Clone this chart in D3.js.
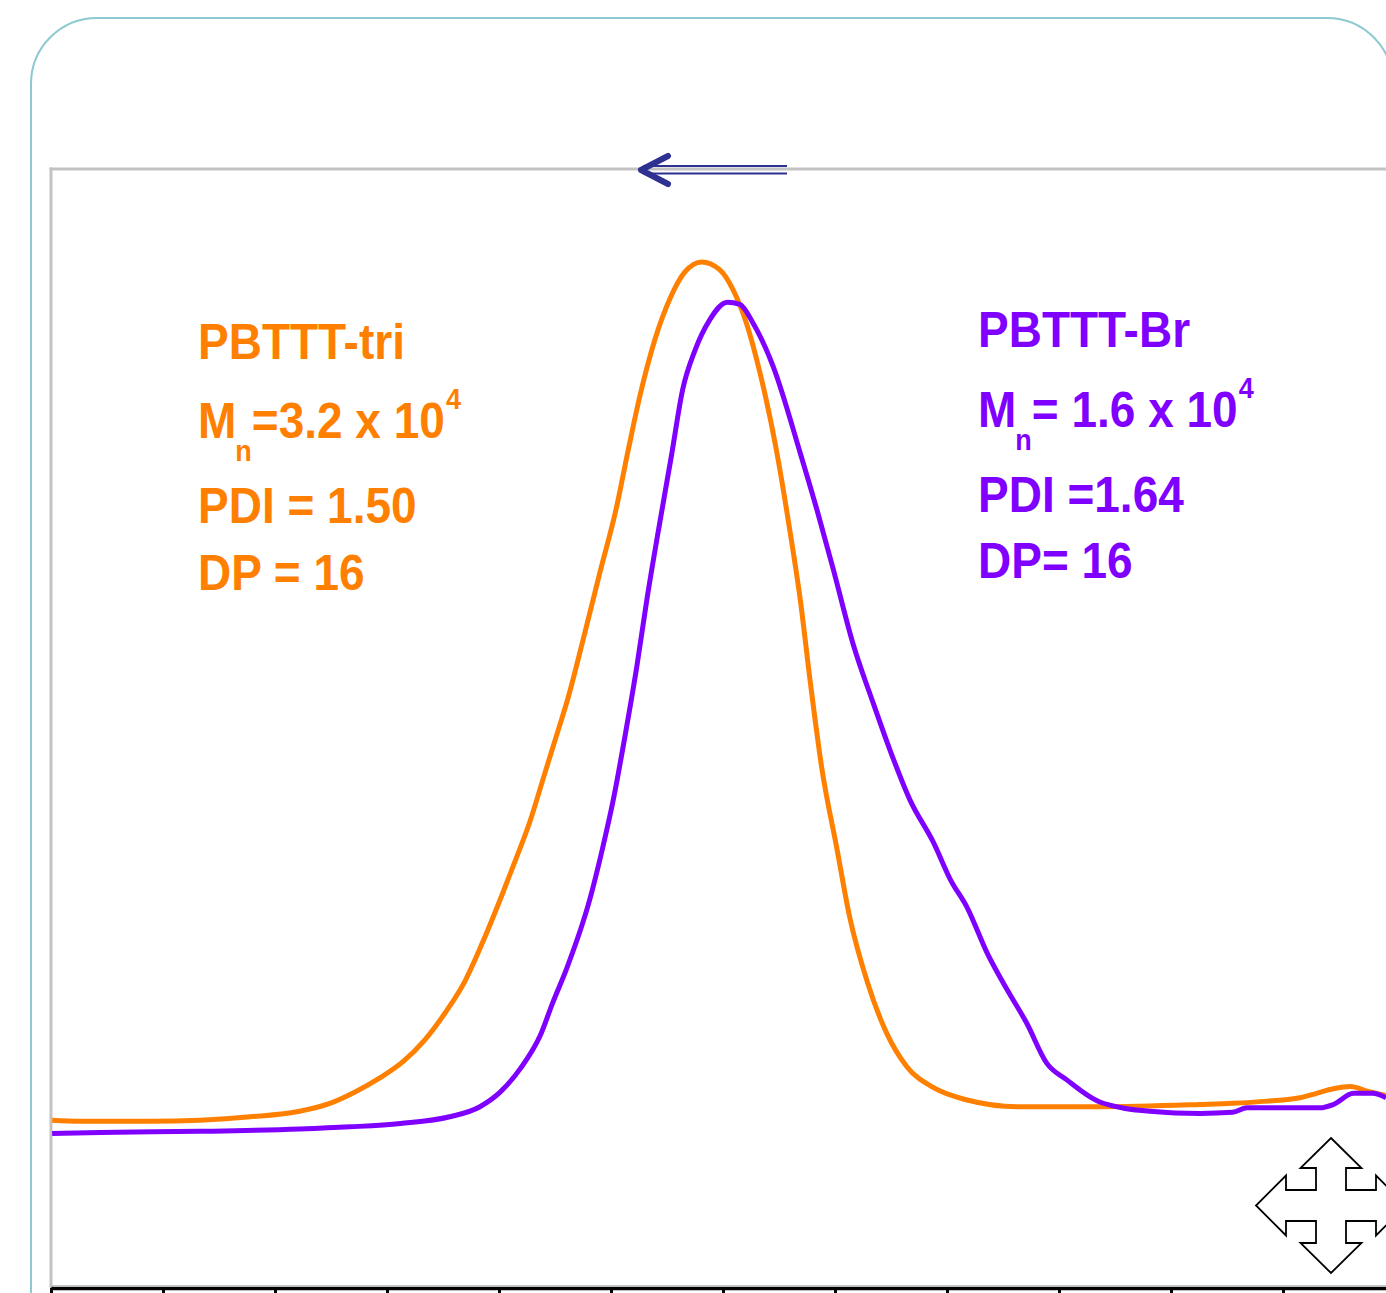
<!DOCTYPE html>
<html>
<head>
<meta charset="utf-8">
<script src="https://cdn.jsdelivr.net/npm/d3@7"></script>
<style>
  html, body { margin: 0; padding: 0; background: #fff; overflow: hidden; }
  svg { display: block; }
  text { font-family: "Liberation Sans", Arial, sans-serif; font-weight: bold; }
</style>
</head>
<body>
<svg id="chart" width="1386" height="1293"></svg>
<script>
// ---- data (elution position in tick units, normalized detector response) ----
const xTicks = [0, 1, 2, 3, 4, 5, 6, 7, 8, 9, 10, 11, 12];

const triX = [0.01,0.26,0.88,1.33,1.78,2.22,2.49,2.71,2.94,3.14,3.34,3.52,3.70,3.85,4.01,4.15,4.28,4.40,4.53,4.61,4.75,4.90,5.05,5.15,5.26,5.39,5.53,5.66,5.81,5.97,6.09,6.21,6.33,6.48,6.60,6.69,6.78,6.88,7.02,7.13,7.29,7.46,7.64,7.88,8.18,8.63,9.37,10.26,10.55,10.86,11.15,11.30,11.45,11.60,11.75,11.92];
const triY = [15.0,14.9,14.9,15.0,15.3,15.8,16.5,17.5,18.8,20.2,22.2,24.6,27.5,30.8,34.7,38.3,41.8,45.7,49.9,52.5,57.9,63.9,69.8,74.7,79.8,84.7,88.5,90.8,91.7,91.0,89.2,86.2,81.8,74.7,67.5,61.5,54.1,46.6,39.1,33.2,27.3,22.8,19.8,17.9,16.8,16.2,16.2,16.4,16.5,16.7,17.0,17.4,17.8,18.0,17.6,17.2];

const brX = [0.01,0.44,1.33,2.22,2.67,3.12,3.56,3.83,4.01,4.19,4.37,4.48,4.61,4.81,4.92,5.02,5.13,5.23,5.32,5.42,5.54,5.64,5.75,5.88,6.04,6.15,6.27,6.45,6.69,6.84,6.98,7.16,7.34,7.49,7.67,7.88,8.03,8.18,8.36,8.54,8.71,8.89,9.07,9.37,9.81,10.26,10.55,10.68,11.15,11.33,11.45,11.63,11.80,11.92];
const brY = [13.8,13.9,14.0,14.2,14.4,14.7,15.3,16.2,17.5,19.6,22.6,25.5,28.7,34.7,39.1,43.6,49.6,55.5,61.5,67.5,74.4,80.3,83.8,86.5,88.1,87.9,86.2,82.3,74.6,69.5,64.4,57.6,52.3,48.1,43.6,39.8,36.5,34.0,29.9,26.6,23.7,20.1,18.6,16.6,15.8,15.6,15.7,16.1,16.1,16.1,16.4,17.4,17.4,17.0];

const triLabels = ["PBTTT-tri", "M", "n", "=3.2 x 10", "4", "PDI = 1.50", "DP = 16"];
const brLabels  = ["PBTTT-Br", "M", "n", "= 1.6 x 10", "4", "PDI =1.64", "DP= 16"];

// ---- layout ----
const svg = d3.select("#chart");
const plot = { left: 51, top: 169, bottom: 1288 };
const x = d3.scaleLinear().domain([0, 12]).range([plot.left, plot.left + 112 * 12]);
const y = d3.scaleLinear().domain([0, 100]).range([plot.bottom, plot.top]);

const ORANGE = "#ff8000", PURPLE = "#8000ff", NAVY = "#2e3192";

// outer rounded frame
svg.append("rect")
  .attr("x", 31).attr("y", 18).attr("width", 1362).attr("height", 1400)
  .attr("rx", 66).attr("ry", 66)
  .attr("fill", "none").attr("stroke", "#8cc9d1").attr("stroke-width", 2);

// plot frame (gray top and left)
svg.append("line").attr("x1", plot.left - 1.5).attr("x2", 1386)
  .attr("y1", plot.top).attr("y2", plot.top)
  .attr("stroke", "#c3c3c3").attr("stroke-width", 3);
svg.append("line").attr("x1", plot.left).attr("x2", plot.left)
  .attr("y1", plot.top - 1.5).attr("y2", plot.bottom)
  .attr("stroke", "#c3c3c3").attr("stroke-width", 3);
svg.append("line").attr("x1", plot.left).attr("x2", 1386)
  .attr("y1", plot.bottom - 2.5).attr("y2", plot.bottom - 2.5)
  .attr("stroke", "#c3c3c3").attr("stroke-width", 1);

// bottom axis
const axis = svg.append("g")
  .attr("transform", `translate(0,${plot.bottom})`)
  .call(d3.axisBottom(x).tickValues(xTicks).tickSize(10).tickSizeOuter(0).tickFormat(""));
axis.select(".domain").attr("stroke", "#000").attr("stroke-width", 3.5);
axis.selectAll(".tick line").attr("stroke", "#000").attr("stroke-width", 3);

// direction arrow on the top frame
svg.append("line").attr("x1", 643).attr("x2", 787).attr("y1", 166).attr("y2", 166)
  .attr("stroke", NAVY).attr("stroke-width", 2.2);
svg.append("line").attr("x1", 643).attr("x2", 787).attr("y1", 173.5).attr("y2", 173.5)
  .attr("stroke", NAVY).attr("stroke-width", 2.2);
svg.append("path").attr("d", "M668,156 L641,170 L668,184")
  .attr("fill", "none").attr("stroke", NAVY).attr("stroke-width", 6)
  .attr("stroke-linecap", "round").attr("stroke-linejoin", "round");

// curves
const line = d3.line().x(d => x(d[0])).y(d => y(d[1])).curve(d3.curveMonotoneX);
svg.append("path").datum(d3.zip(triX, triY)).attr("d", line)
  .attr("fill", "none").attr("stroke", ORANGE).attr("stroke-width", 5).attr("stroke-linejoin", "round");
svg.append("path").datum(d3.zip(brX, brY)).attr("d", line)
  .attr("fill", "none").attr("stroke", PURPLE).attr("stroke-width", 5).attr("stroke-linejoin", "round");

// annotation blocks
function block(labels, x0, base, color) {
  const g = svg.append("g").attr("fill", color);
  const big = 46, small = 27, sy = 1.08;
  const t = (s, xx, yy, fs) => g.append("text")
    .attr("transform", `translate(${xx},${yy}) scale(1,${sy})`)
    .attr("font-size", fs).text(s);
  t(labels[0], x0, base[0], big);
  const m = t(labels[1], x0, base[1], big);
  const mw = m.node().getComputedTextLength();
  const n = t(labels[2], x0 + mw - 1, base[1] + 23, small);
  const nw = n.node().getComputedTextLength();
  const eq = t(labels[3], x0 + mw + nw - 1, base[1], big);
  const ew = eq.node().getComputedTextLength();
  t(labels[4], x0 + mw + nw - 1 + ew + 1, base[1] - 29, small);
  t(labels[5], x0, base[2], big);
  t(labels[6], x0, base[3], big);
}
block(triLabels, 198, [359, 438, 523, 590], ORANGE);
block(brLabels, 978, [347, 427, 512, 578], PURPLE);

// move (four-way arrow) icon
const cx = 1331, cy = 1205.5;
const pts = [[0,-67.5],[30.5,-37.5],[15,-37.5],[15,-15.5],[45,-15.5],[45,-30],[75,0],[45,30],[45,15.5],[15,15.5],[15,37.5],[30.5,37.5],
             [0,67.5],[-30.5,37.5],[-15,37.5],[-15,15.5],[-45,15.5],[-45,30],[-75,0],[-45,-30],[-45,-15.5],[-15,-15.5],[-15,-37.5],[-30.5,-37.5]];
svg.append("path")
  .attr("d", "M" + pts.map(p => (cx + p[0]) + "," + (cy + p[1])).join("L") + "Z")
  .attr("fill", "#fff").attr("stroke", "#000").attr("stroke-width", 1.8).attr("stroke-linejoin", "miter");
</script>
</body>
</html>
